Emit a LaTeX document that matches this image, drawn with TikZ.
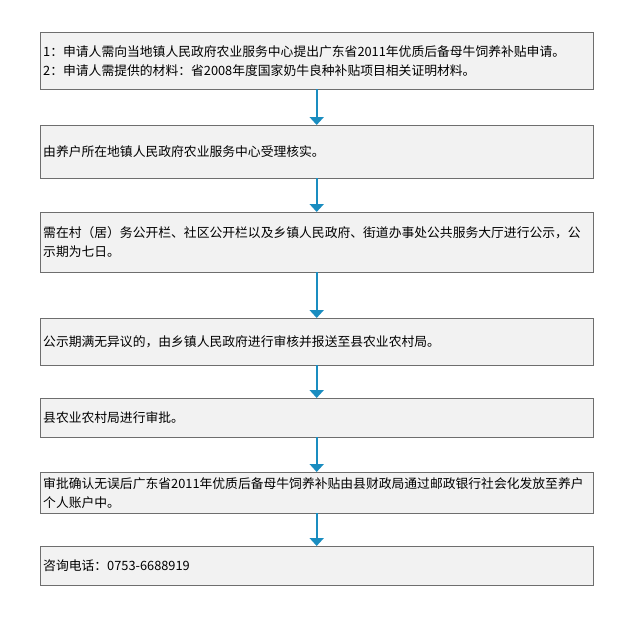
\documentclass[tikz,border=0pt]{standalone}
\usepackage{fontspec}
\setmainfont{Noto Sans CJK SC}
\usetikzlibrary{positioning,arrows.meta}
\definecolor{boxgray}{HTML}{F2F2F2}
\definecolor{linegray}{HTML}{6E6E6E}
\definecolor{arrowblue}{HTML}{1A8DC0}

\begin{document}
\begin{tikzpicture}[x=1pt,y=-1pt,
          arrowstyle/.style={-{Triangle[length=8pt,width=14pt]}, line width=2pt, arrowblue}]
          % A box style
          \tikzstyle{stepbox} = [draw=linegray, fill=boxgray, rectangle, anchor=north west,
                minimum width=553pt, text width=547pt, align=left, inner xsep=3pt, inner ysep=0pt,
                font=\fontsize{12.8pt}{19pt}\selectfont]
          \useasboundingbox (0,0) rectangle (638,619);

          % Place the boxes top to bottom
          \node (apply)   [stepbox, minimum height=57pt] at (40,32) {1：申请人需向当地镇人民政府农业服务中心提出广东省2011年优质后备母牛饲养补贴申请。\\2：申请人需提供的材料：省2008年度国家奶牛良种补贴项目相关证明材料。};
          \node (check)   [stepbox, minimum height=53pt] at (40,125) {由养户所在地镇人民政府农业服务中心受理核实。};
          \node (notice)  [stepbox, minimum height=60pt] at (40,212) {需在村（居）务公开栏、社区公开栏以及乡镇人民政府、街道办事处公共服务大厅进行公示，公\\示期为七日。};
          \node (review)  [stepbox, minimum height=47pt] at (40,318) {公示期满无异议的，由乡镇人民政府进行审核并报送至县农业农村局。};
          \node (approve) [stepbox, minimum height=39pt] at (40,398) {县农业农村局进行审批。};
          \node (pay)     [stepbox, minimum height=41pt] at (40,472) {审批确认无误后广东省2011年优质后备母牛饲养补贴由县财政局通过邮政银行社会化发放至养户\\个人账户中。};
          \node (phone)   [stepbox, minimum height=39pt] at (40,546) {咨询电话：0753-6688919};

          % Arrows downwards
          \draw[arrowstyle] (apply.south) -- (check.north);
          \draw[arrowstyle] (check.south) -- (notice.north);
          \draw[arrowstyle] (notice.south) -- (review.north);
          \draw[arrowstyle] (review.south) -- (approve.north);
          \draw[arrowstyle] (approve.south) -- (pay.north);
          \draw[arrowstyle] (pay.south) -- (phone.north);
\end{tikzpicture}
\end{document}
